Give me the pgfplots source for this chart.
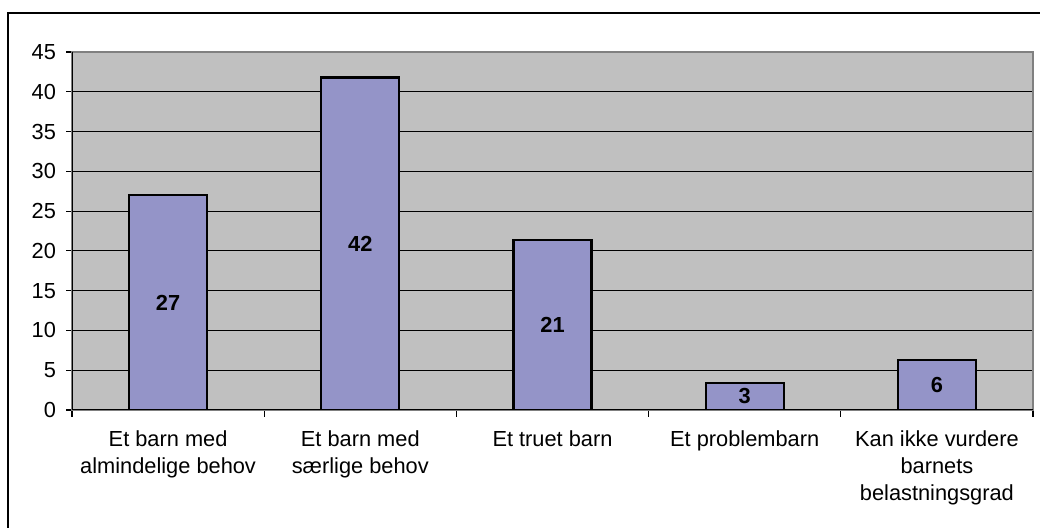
\documentclass[border=0pt]{standalone}
\usepackage{pgfplots}
\pgfplotsset{compat=1.18}
\usepackage{fontspec}
\setmainfont{Liberation Sans}
\definecolor{plotbg}{RGB}{192,192,192}
\definecolor{barfill}{RGB}{148,148,200}
\definecolor{bordergray}{RGB}{128,128,128}
\begin{document}
\begin{tikzpicture}
\path[use as bounding box] (0,0) rectangle (520pt,264pt);
\draw[line width=0.7pt] (4pt,0) -- (4pt,257.5pt) -- (520pt,257.5pt);
\begin{axis}[
  at={(36pt,59pt)}, anchor=south west,
  scale only axis, width=480.5pt, height=179pt,
  xmin=0.5, xmax=5.5, ymin=0, ymax=45,
  ybar, bar width=39pt,
  axis background/.style={fill=plotbg},
  axis line style={draw=bordergray, line width=1pt},
  /pgf/number format/assume math mode=true,
  tick pos=left, tick align=outside,
  ytick={0,5,...,45},
  xtick={1,2,3,4,5},
  xticklabels={{Et barn med\\almindelige behov},{Et barn med\\særlige behov},{Et truet barn},{Et problembarn},{Kan ikke vurdere\\barnets\\belastningsgrad}},
  minor xtick={0.5,1.5,...,5.5},
  major x tick style={draw=none},
  minor x tick style={black, line width=0.6pt},
  major y tick style={black, line width=0.6pt},
  major tick length=3pt, minor tick length=3.5pt,
  ymajorgrids, major grid style={black, line width=0.6pt},
  every tick label/.append style={font=\fontsize{10.9}{13.5}\selectfont},
  xticklabel style={align=center, anchor=north, yshift=-4pt},
  yticklabel style={xshift=-1.5pt},
]
\addplot[fill=barfill, draw=black, line width=1.1pt,
  point meta=y,
  visualization depends on={y \as \rawy},
  nodes near coords={\pgfmathprintnumber[fixed,precision=0]{\pgfplotspointmeta}},
  every node near coord/.append style={font=\bfseries\fontsize{10.9}{12}\selectfont, anchor=center, shift={(axis direction cs:0,-\rawy/2)}},
] coordinates {(1,27.0) (2,41.8) (3,21.4) (4,3.4) (5,6.3)};
\draw[black, line width=0.9pt] (rel axis cs:0,1) -- (rel axis cs:0,0) -- (rel axis cs:1,0);
\end{axis}
\end{tikzpicture}
\end{document}
